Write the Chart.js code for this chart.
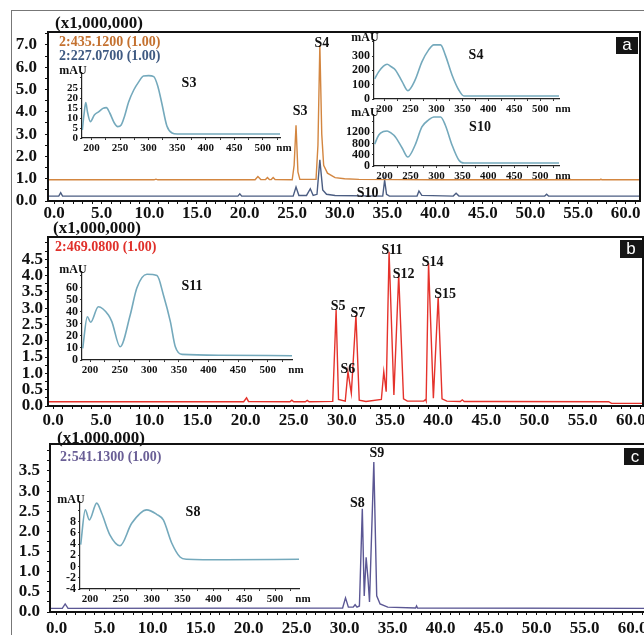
<!DOCTYPE html>
<html>
<head>
<meta charset="utf-8">
<script src="https://cdn.jsdelivr.net/npm/chart.js@4.4.1/dist/chart.umd.min.js"></script>
<style>
html, body { margin: 0; padding: 0; background: #fff; overflow: hidden; }
#fig { position: relative; width: 644px; height: 635px; overflow: hidden; background: #fff; }
#fig canvas { position: absolute; }
.frame { position: absolute; left: 11px; top: 10px; width: 700px; height: 700px; border-left: 1px solid #777; border-top: 1px solid #777; }
.tag { position: absolute; background: #151515; color: #fff; font: 17px "Liberation Sans", Arial, sans-serif; text-align: center; }
</style>
</head>
<body>
<div id="fig">
  <div class="frame"></div>
  <div class="tag" style="left:616px;top:37px;width:22px;height:17px;line-height:16px;z-index:5">a</div>
  <div class="tag" style="left:620px;top:240px;width:22px;height:18px;line-height:17px;z-index:5">b</div>
  <div class="tag" style="left:624px;top:448px;width:22px;height:17px;line-height:17px;z-index:5">c</div>
</div>
<script>
// retention time axis (min)
const timeTicks = [0, 5, 10, 15, 20, 25, 30, 35, 40, 45, 50, 55, 60];
const yTicksA = [0, 1, 2, 3, 4, 5, 6, 7];
const yTicksB = [0, 0.5, 1, 1.5, 2, 2.5, 3, 3.5, 4, 4.5];
const yTicksC = [0, 0.5, 1, 1.5, 2, 2.5, 3, 3.5];

// panel a: 2:435.1200 (orange) and 2:227.0700 (blue), x1,000,000
const orangeA = [[-0.6, 0.95], [10.5, 0.95], [10.7, 0.98], [10.9, 0.95], [21.1, 0.95], [21.4, 1.1], [21.7, 0.96],
  [22.2, 0.96], [22.4, 1.05], [22.6, 0.96], [22.8, 0.96], [23.0, 1.05], [23.2, 0.96], [25.0, 0.95], [25.2, 1.6],
  [25.4, 3.4], [25.6, 1.3], [25.8, 0.97], [27.5, 0.97], [27.7, 2.5], [27.9, 7.0], [28.1, 3.0], [28.3, 1.6],
  [28.7, 1.25], [29.5, 1.05], [30.5, 1.0], [32.0, 0.97], [40.0, 0.95], [57.3, 0.95], [57.4, 0.98], [57.5, 0.95], [61.5, 0.95]];
const blueA = [[-0.6, 0.22], [0.5, 0.22], [0.7, 0.37], [0.9, 0.22], [19.3, 0.22], [19.5, 0.32], [19.7, 0.22],
  [25.1, 0.22], [25.4, 0.63], [25.7, 0.25], [26.5, 0.25], [26.9, 0.55], [27.2, 0.25], [27.6, 0.3], [27.9, 1.85],
  [28.2, 0.5], [28.6, 0.3], [29.5, 0.25], [34.5, 0.22], [34.7, 0.94], [34.9, 0.3], [35.2, 0.22], [38.1, 0.22],
  [38.3, 0.45], [38.6, 0.25], [41.9, 0.22], [42.2, 0.35], [42.5, 0.22], [51.5, 0.22], [51.7, 0.3], [51.9, 0.22], [61.5, 0.22]];
const peaksA = [['S3', 25.4], ['S4', 27.9], ['S10', 34.7]];

// panel b: 2:469.0800 (red)
const redB = [[-0.5, 0.13], [19.8, 0.13], [20.1, 0.25], [20.3, 0.14], [24.6, 0.13], [24.8, 0.18], [25.0, 0.13],
  [26.2, 0.13], [26.4, 0.17], [26.6, 0.13], [29.05, 0.14], [29.4, 2.94], [29.65, 0.2], [30.35, 0.15], [30.63, 1.05],
  [30.98, 0.39], [31.46, 2.79], [31.8, 0.18], [32.5, 0.14], [34.1, 0.2], [34.35, 1.05], [34.6, 0.44], [34.9, 4.73],
  [35.4, 0.34], [35.9, 4.02], [36.4, 0.22], [36.8, 0.15], [38.5, 0.15], [38.7, 0.2], [38.75, 0.16], [39.0, 4.38],
  [39.5, 0.24], [40.0, 3.35], [40.4, 0.22], [40.9, 0.15], [42.3, 0.14], [42.5, 0.19], [42.7, 0.14], [46.0, 0.14],
  [57.7, 0.13], [58.0, 0.08], [61.3, 0.08]];
const peaksB = [['S5', 29.4], ['S6', 30.63], ['S7', 31.46], ['S11', 34.9], ['S12', 35.9], ['S14', 39.0], ['S15', 40.0]];

// panel c: 2:541.1300 (purple)
const purpleC = [[-0.7, 0.09], [0.6, 0.09], [0.9, 0.2], [1.2, 0.09], [29.8, 0.1], [30.1, 0.35], [30.4, 0.12],
  [30.9, 0.12], [31.1, 0.18], [31.3, 0.12], [31.55, 0.15], [31.85, 2.56], [32.05, 0.4], [32.25, 1.36], [32.45, 0.8],
  [32.6, 0.25], [33.05, 3.72], [33.35, 0.4], [33.7, 0.2], [34.5, 0.12], [37.4, 0.1], [37.5, 0.15], [37.6, 0.1], [61.4, 0.09]];
const peaksC = [['S8', 31.85], ['S9', 33.05]];

// UV spectra (nm, mAU)
const nmTicks = [200, 250, 300, 350, 400, 450, 500];
const specS3 = [[184, 4], [187, 12], [190, 17.7], [193, 13], [198, 8.2], [205, 11.5], [213, 13.2], [220, 14.8],
  [226, 15.2], [232, 12.5], [240, 7.5], [246, 5.7], [252, 6.5], [258, 11], [265, 18], [274, 24], [283, 28.2],
  [291, 31], [300, 31.2], [309, 30.7], [316, 26], [323, 17.5], [332, 6], [341, 2.5], [350, 2], [420, 2], [530, 2]];
const ticksS3 = [0, 5, 10, 15, 20, 25];
const specS4 = [[181, 140], [189, 191], [198, 230], [205, 243], [213, 225], [221, 203], [234, 121], [245, 58],
  [259, 133], [272, 259], [285, 343], [295, 378], [308, 378], [317, 308], [330, 168], [343, 63], [353, 21],
  [420, 21], [536, 21]];
const ticksS4 = [0, 100, 200, 300];
const specS10 = [[181, 780], [189, 1107], [198, 1230], [205, 1250], [213, 1170], [221, 1036], [234, 643], [245, 321],
  [259, 750], [272, 1393], [285, 1643], [295, 1750], [308, 1750], [317, 1464], [330, 750], [343, 214], [353, 107],
  [420, 107], [536, 107]];
const ticksS10 = [0, 400, 800, 1200];
const specS11 = [[187.6, 9.7], [195.4, 36], [201, 31.4], [214, 44.4], [231, 37.5], [236.8, 32], [250.8, 11],
  [267.8, 37.5], [279, 60], [296, 71.4], [313, 70.3], [324, 54], [335.6, 32], [344, 11], [355.4, 4.7], [420, 4],
  [541, 3.6]];
const ticksS11 = [0, 10, 20, 30, 40, 50, 60];
const specS8 = [[184.9, 3.9], [192.4, 10.1], [198.9, 8.3], [210.9, 11.3], [219, 9.5], [232.4, 5.6], [248.6, 3.7],
  [267.6, 7.7], [291.9, 10.1], [308.1, 9.3], [318.8, 8.3], [332.4, 4.2], [345.9, 1.7], [356.7, 1.3], [420, 1.2],
  [538.7, 1.3]];
const ticksS8 = [-4, -2, 0, 2, 4, 6, 8];

const SERIF = '"Liberation Serif", "Times New Roman", serif';
const INK = '#111';
const fig = document.getElementById('fig');

function addCanvas(box) {
  const cv = document.createElement('canvas');
  cv.width = box.w; cv.height = box.h;
  cv.style.left = box.x + 'px'; cv.style.top = box.y + 'px';
  fig.appendChild(cv);
  return cv;
}

function inList(list, v) {
  return list.some(t => Math.abs(t - v) < 1e-6);
}

function mainPanel(box, area, cfg) {
  const cv = addCanvas(box);
  const deco = {
    id: 'deco',
    afterDatasetsDraw(chart) {
      const ctx = chart.ctx, ca = chart.chartArea;
      const xs = chart.scales.x, ys = chart.scales.y;
      ctx.save();
      ctx.strokeStyle = INK; ctx.lineWidth = 2;
      ctx.strokeRect(ca.left, ca.top, ca.right - ca.left, ca.bottom - ca.top);
      ctx.textBaseline = 'middle';
      ctx.textAlign = 'left';
      cfg.texts.forEach(t => {
        ctx.font = 'bold ' + t.size + 'px ' + SERIF;
        ctx.fillStyle = t.color;
        ctx.fillText(t.text, t.x - box.x, t.y - box.y);
      });
      ctx.font = 'bold 14px ' + SERIF;
      ctx.fillStyle = INK;
      ctx.textAlign = 'center';
      cfg.peaks.forEach((p, i) => {
        let top = -Infinity;
        cfg.series.forEach(s => s.data.forEach(d => { if (d[0] === p[1] && d[1] > top) top = d[1]; }));
        const sh = cfg.shifts[i];
        ctx.fillText(p[0], xs.getPixelForValue(p[1]) + sh[0], ys.getPixelForValue(top) + sh[1]);
      });
      ctx.restore();
    }
  };
  new Chart(cv, {
    type: 'line',
    data: {
      datasets: cfg.series.map(s => ({
        data: s.data.map(d => ({ x: d[0], y: d[1] })),
        borderColor: s.color, borderWidth: 1.4, pointRadius: 0, tension: 0, fill: false
      }))
    },
    options: {
      responsive: false, animation: false, events: [], devicePixelRatio: 1,
      layout: { padding: { left: 0, top: area.top - box.y, right: box.x + box.w - area.right, bottom: 0 } },
      plugins: { legend: { display: false }, tooltip: { enabled: false } },
      scales: {
        x: {
          type: 'linear', min: cfg.xmin, max: cfg.xmax,
          afterFit: s => { s.height = box.y + box.h - area.bottom; },
          ticks: {
            stepSize: 1, includeBounds: false, autoSkip: false, maxRotation: 0, padding: cfg.xPad, color: INK,
            font: { family: SERIF, size: 17, weight: 'bold', lineHeight: 1 },
            callback: v => inList(timeTicks, v) ? v.toFixed(1) : ''
          },
          grid: { drawOnChartArea: false, tickLength: 3, color: INK },
          border: { color: INK, width: 2 }
        },
        y: {
          type: 'linear', min: 0, max: cfg.ymax,
          afterFit: s => { s.width = area.left - box.x; },
          ticks: {
            stepSize: cfg.yStep, includeBounds: false, autoSkip: false, padding: cfg.yPad, color: INK,
            font: { family: SERIF, size: 17, weight: 'bold', lineHeight: 1 },
            callback: v => inList(cfg.yLabels, v) ? v.toFixed(1) : ''
          },
          grid: { drawOnChartArea: false, tickLength: 3, color: INK },
          border: { color: INK, width: 2 }
        }
      }
    },
    plugins: [deco]
  });
}

function inset(area, cfg) {
  const yw = 30, pt = 18, xh = 16, pr = 18;
  const box = { x: area.left - yw, y: area.top - pt, w: yw + area.right - area.left + pr, h: pt + area.bottom - area.top + xh };
  const cv = addCanvas(box);
  const deco = {
    id: 'deco',
    afterDatasetsDraw(chart) {
      const ctx = chart.ctx, ca = chart.chartArea;
      ctx.save();
      ctx.fillStyle = INK;
      ctx.textBaseline = 'middle';
      ctx.textAlign = 'center';
      ctx.font = 'bold 12px ' + SERIF;
      ctx.fillText('mAU', ca.left - 9, ca.top - 2);
      ctx.font = 'bold 11px ' + SERIF;
      ctx.fillText('nm', ca.right + 4, ca.bottom + 10.5);
      ctx.font = 'bold 14px ' + SERIF;
      ctx.fillText(cfg.title, ca.left + cfg.titleAt[0], ca.top + cfg.titleAt[1]);
      ctx.restore();
    }
  };
  new Chart(cv, {
    type: 'line',
    data: {
      datasets: [{
        data: cfg.data.map(d => ({ x: d[0], y: d[1] })),
        borderColor: '#74a9bc', borderWidth: 1.6, pointRadius: 0, cubicInterpolationMode: 'monotone', fill: false
      }]
    },
    options: {
      responsive: false, animation: false, events: [], devicePixelRatio: 1,
      layout: { padding: { left: 0, top: pt, right: pr, bottom: 0 } },
      plugins: { legend: { display: false }, tooltip: { enabled: false } },
      scales: {
        x: {
          type: 'linear', min: cfg.xmin, max: cfg.xmax,
          afterFit: s => { s.height = xh; },
          ticks: {
            stepSize: 25, includeBounds: false, autoSkip: false, maxRotation: 0, padding: 3, color: INK,
            font: { family: SERIF, size: 11, weight: 'bold', lineHeight: 1 },
            callback: v => inList(nmTicks, v) ? String(v) : ''
          },
          grid: { drawOnChartArea: false, tickLength: 2, color: '#333' },
          border: { color: '#222', width: 1.2 }
        },
        y: {
          type: 'linear', min: cfg.ymin, max: cfg.ymax,
          afterFit: s => { s.width = yw; },
          ticks: {
            stepSize: cfg.yStep, includeBounds: false, autoSkip: false, padding: 2, color: INK,
            font: { family: SERIF, size: cfg.yFont, weight: 'bold', lineHeight: 1 },
            callback: v => inList(cfg.yLabels, v) ? String(v) : ''
          },
          grid: { drawOnChartArea: false, tickLength: 2, color: '#333' },
          border: { color: '#222', width: 1.2 }
        }
      }
    },
    plugins: [deco]
  });
}

mainPanel({ x: 0, y: 0, w: 644, h: 222 }, { left: 48, top: 32, right: 640, bottom: 201 }, {
  series: [{ data: orangeA, color: '#d38640' }, { data: blueA, color: '#4b5d82' }],
  peaks: peaksA, shifts: [[4, -14], [2, -2], [-17, 13]],
  xmin: -0.63, xmax: 61.5, ymax: 7.58, yStep: 0.5, yLabels: yTicksA, xPad: 1, yPad: 8,
  texts: [
    { text: '(x1,000,000)', x: 55, y: 24, size: 17, color: INK },
    { text: '2:435.1200 (1.00)', x: 59, y: 42.5, size: 14, color: '#c4712f' },
    { text: '2:227.0700 (1.00)', x: 59, y: 56.5, size: 14, color: '#3f5a82' }
  ]
});

mainPanel({ x: 0, y: 216, w: 644, h: 214 }, { left: 48, top: 237, right: 643, bottom: 406 }, {
  series: [{ data: redB, color: '#e5322b' }],
  peaks: peaksB, shifts: [[2, -4], [0, -2], [2, -2], [3, -1], [5, 0], [4, -1], [7, -2]],
  xmin: -0.52, xmax: 61.27, ymax: 5.18, yStep: 0.25, yLabels: yTicksB, xPad: 3, yPad: 2,
  texts: [
    { text: '(x1,000,000)', x: 53, y: 228.5, size: 17, color: INK },
    { text: '2:469.0800 (1.00)', x: 55, y: 247.5, size: 14, color: '#e0302a' }
  ]
});

mainPanel({ x: 0, y: 426, w: 648, h: 209 }, { left: 50, top: 444, right: 646, bottom: 612 }, {
  series: [{ data: purpleC, color: '#5b5794' }],
  peaks: peaksC, shifts: [[-5, -5], [3, -9]],
  xmin: -0.68, xmax: 61.4, ymax: 4.17, yStep: 0.25, yLabels: yTicksC, xPad: 5, yPad: 7,
  texts: [
    { text: '(x1,000,000)', x: 57, y: 439, size: 17, color: INK },
    { text: '2:541.1300 (1.00)', x: 60, y: 457, size: 14, color: '#6a5f96' }
  ]
});

inset({ left: 82, top: 73, right: 280, bottom: 138 },
  { data: specS3, title: 'S3', titleAt: [107, 10], xmin: 183.4, xmax: 530, ymin: 0, ymax: 32.5, yStep: 5, yLabels: ticksS3, yFont: 11 });
inset({ left: 374, top: 40, right: 559, bottom: 99 },
  { data: specS4, title: 'S4', titleAt: [102, 15], xmin: 179.8, xmax: 536, ymin: 0, ymax: 412, yStep: 100, yLabels: ticksS4, yFont: 12 });
inset({ left: 374, top: 115, right: 559, bottom: 166 },
  { data: specS10, title: 'S10', titleAt: [106, 12], xmin: 179.8, xmax: 536, ymin: 0, ymax: 1820, yStep: 400, yLabels: ticksS10, yFont: 12 });
inset({ left: 82, top: 272, right: 292, bottom: 360 },
  { data: specS11, title: 'S11', titleAt: [110, 14], xmin: 186.4, xmax: 541, ymin: 0, ymax: 73.3, yStep: 10, yLabels: ticksS11, yFont: 12 });
inset({ left: 80, top: 502, right: 299, bottom: 589 },
  { data: specS8, title: 'S8', titleAt: [113, 10], xmin: 183.8, xmax: 538.7, ymin: -4, ymax: 11.5, yStep: 2, yLabels: ticksS8, yFont: 12 });
</script>
</body>
</html>
